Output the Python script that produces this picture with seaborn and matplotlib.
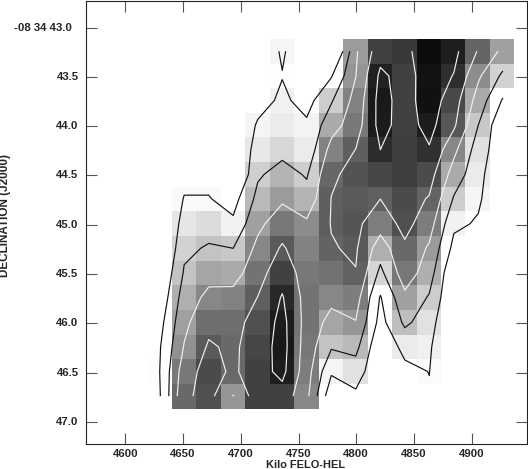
import numpy as np
import pandas as pd
import matplotlib
matplotlib.use("Agg")
import matplotlib.pyplot as plt
import seaborn as sns

# channel velocities and declination offsets of the cube slice
velocity = [4629.7, 4650.9, 4672.2, 4693.4, 4714.7, 4735.9, 4757.1, 4778.4,
            4799.6, 4820.9, 4842.1, 4863.3, 4884.6, 4905.8, 4927.1]
declination = [43.24, 43.49, 43.74, 43.99, 44.24, 44.49, 44.74, 44.99,
               45.24, 45.49, 45.74, 45.99, 46.24, 46.49, 46.74]

# flux per pixel, one list per declination row
row_00 = [-90, -90, -90, -90, -40, 10, -40, -85, 100, 190, 198, 243, 225, 155, 95]
row_01 = [-90, -90, -90, -90, -40, 1, -40, -1, 106, 222, 190, 237, 209, 115, 45]
row_02 = [-90, -90, -90, -90, -20, 14, -17, 50, 125, 230, 190, 238, 183, 85, -2]
row_03 = [-90, -90, -90, -60, 10, 20, 12, 85, 135, 228, 190, 227, 168, 55, -40]
row_04 = [-90, -90, -90, -48, 23, 40, 20, 125, 160, 211, 193, 207, 120, 30, -33]
row_05 = [-90, -13, -13, -70, 48, 75, 50, 152, 172, 185, 193, 180, 85, 20, -47]
row_06 = [-60, 6, 6, -17, 70, 100, 75, 160, 165, 159, 180, 155, 50, 10, -40]
row_07 = [-75, 25, 35, 13, 95, 135, 115, 161, 170, 129, 175, 130, 13, -2, -40]
row_08 = [-75, 45, 60, 55, 120, 165, 125, 156, 165, 80, 150, 100, -12, -60, -60]
row_09 = [-52, 60, 90, 85, 140, 190, 135, 140, 157, 42, 135, 80, -48, -60, -60]
row_10 = [-35, 80, 120, 125, 160, 215, 140, 120, 130, -1, 95, 50, -50, -60, -60]
row_11 = [-15, 95, 145, 145, 175, 227, 140, 90, 105, -15, 65, 30, -70, -60, -60]
row_12 = [-1, 110, 165, 150, 185, 230, 135, 60, 70, -42, 20, 15, -105, -60, -60]
row_13 = [2.9, 135, 180, 150, 190, 225, 130, 10, 30, -43, -12, 4, -60, -60, -60]
row_14 = [-1, 150, 175, 105, 190, 190, 120, -34, -8, -40, -40, -2, -60, -60, -60]

black_levels = [3, 55]
white_levels = [107, 159, 211]

vel_ticks = [4600, 4650, 4700, 4750, 4800, 4850, 4900]
dec_ticks = [43.0, 43.5, 44.0, 44.5, 45.0, 45.5, 46.0, 46.5, 47.0]
dec_labels = ["-08 34 43.0  ", "43.5", "44.0", "44.5", "45.0", "45.5", "46.0", "46.5", "47.0"]

flux = pd.DataFrame([row_00, row_01, row_02, row_03, row_04, row_05, row_06, row_07,
                     row_08, row_09, row_10, row_11, row_12, row_13, row_14],
                    index=declination, columns=velocity)

sns.set_style("ticks")
plt.rcParams["font.family"] = ["Liberation Sans", "DejaVu Sans"]
plt.rcParams["font.weight"] = "bold"

W, H = 528, 469
fig = plt.figure(figsize=(W / 100, H / 100), dpi=100)
ax = fig.add_axes([85.5 / W, 1 - 443.5 / H, 441.5 / W, 442 / H])

sns.heatmap(flux, cmap="gray_r", vmin=0, vmax=255, cbar=False, ax=ax,
            linewidths=0, rasterized=True)


# heatmap cells sit on index positions, so data values go through these
def vel_pos(v):
    return (np.asarray(v) - velocity[0]) / (velocity[1] - velocity[0]) + 0.5


def dec_pos(d):
    return (np.asarray(d) - declination[0]) / (declination[1] - declination[0]) + 0.5


xc = vel_pos(velocity)
yc = dec_pos(declination)
ax.contour(xc, yc, flux.values, levels=black_levels, colors="#111111", linewidths=0.85)
ax.contour(xc, yc, flux.values, levels=white_levels, colors="#f0f0f0", linewidths=0.85)

ax.set_xlim(vel_pos(4565.4), vel_pos(4948.0))
ax.set_ylim(dec_pos(47.22), dec_pos(42.736))

ax.set_xticks(vel_pos(vel_ticks))
ax.set_xticklabels([str(v) for v in vel_ticks], rotation=0)
ax.set_yticks(dec_pos(dec_ticks))
ax.set_yticklabels(dec_labels, rotation=0)
ax.tick_params(direction="in", length=8, width=0.8, color="#555555", top=True, right=True,
               labelsize=8.2, pad=5)
ax.tick_params(axis="x", pad=4)

for side in ax.spines.values():
    side.set_visible(True)
    side.set_linewidth(0.8)
    side.set_color("#222222")

fig.text(306 / W, 1 - 465 / H, "Kilo FELO-HEL", ha="center", va="center", fontsize=7.9, fontweight="bold")
fig.text(5.5 / W, 1 - 215.5 / H, "DECLINATION (J2000)", ha="center", va="center", rotation=90,
         fontsize=8.5, fontweight="bold")

fig.savefig("out.png", dpi=100, facecolor="white")
